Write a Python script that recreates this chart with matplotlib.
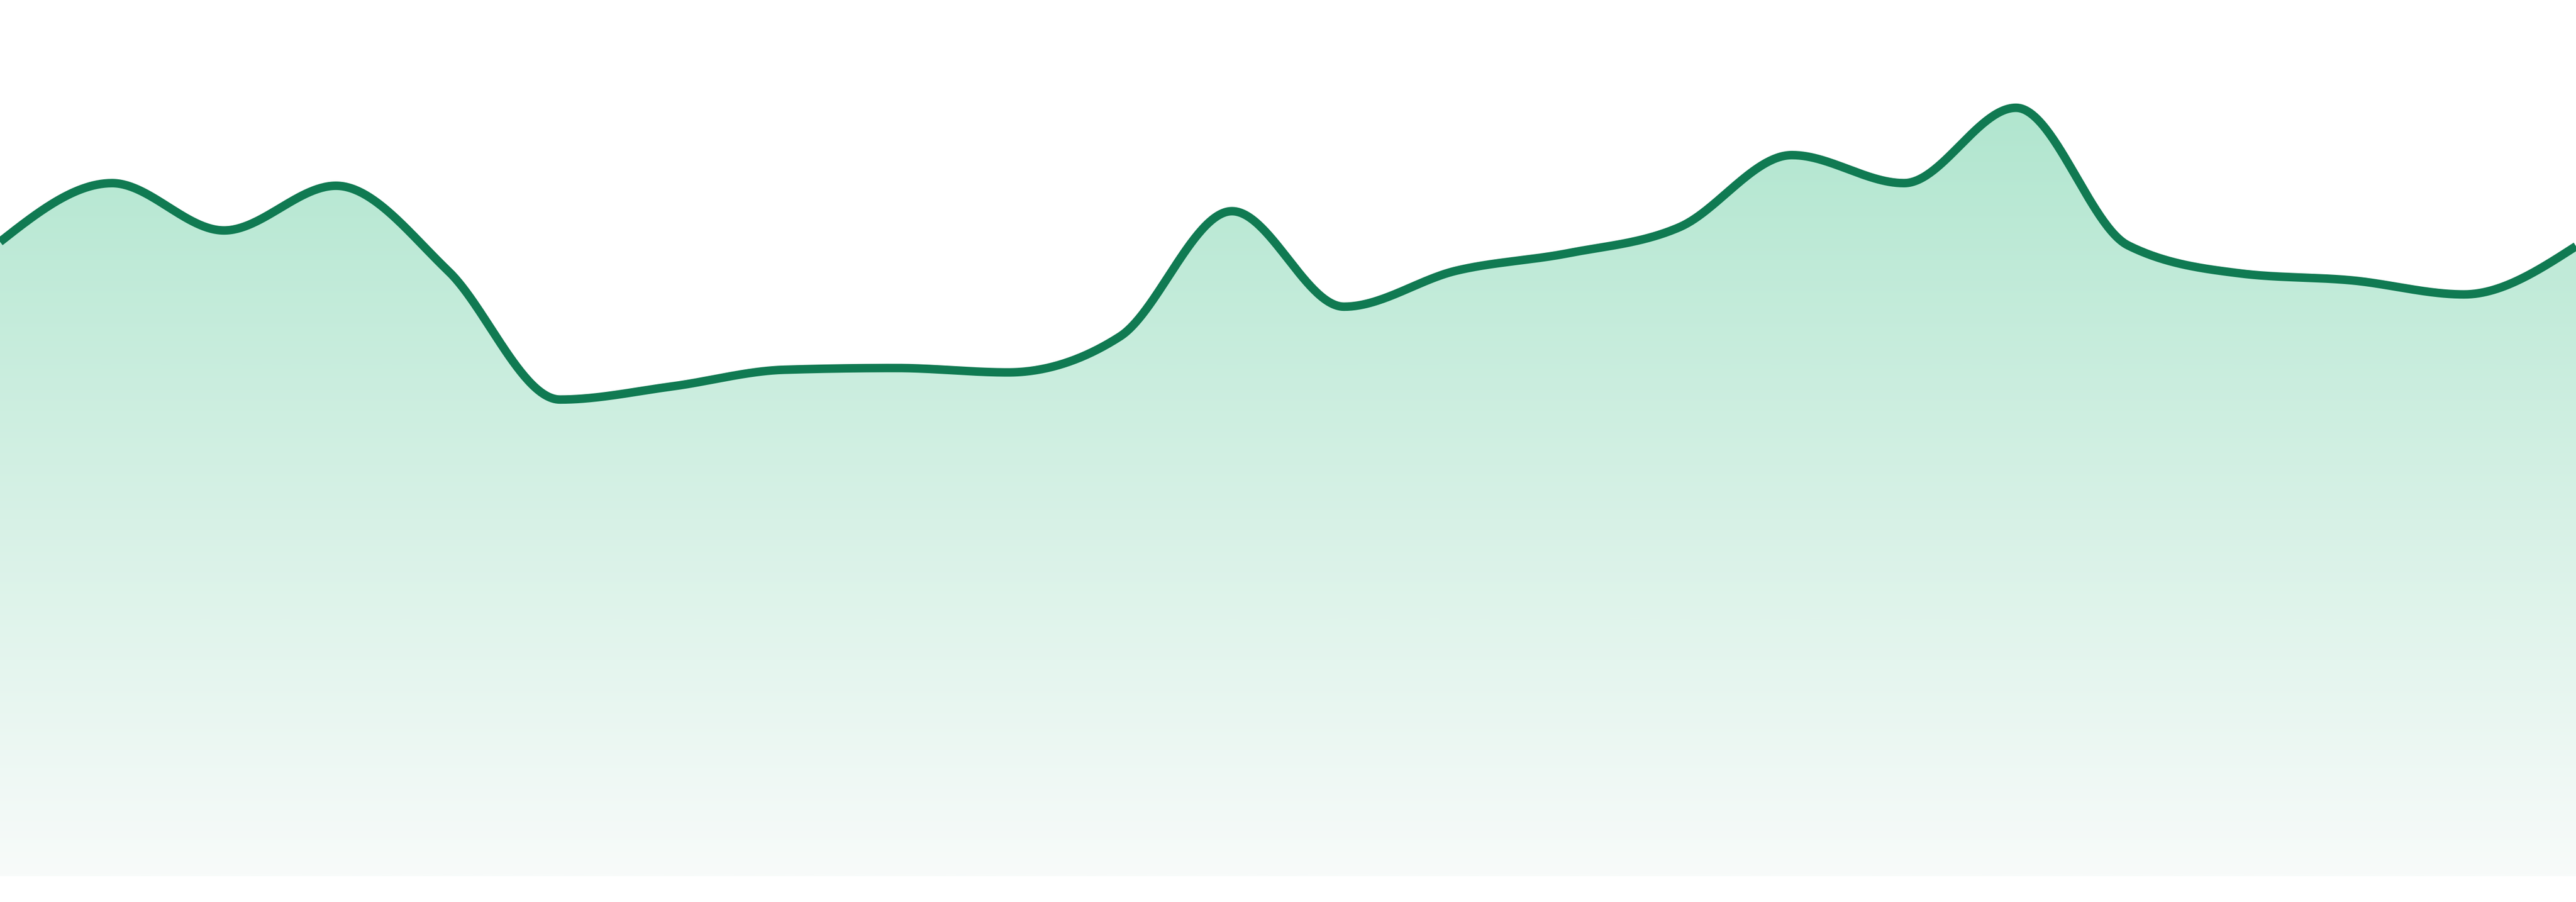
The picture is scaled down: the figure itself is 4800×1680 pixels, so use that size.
import numpy as np
import matplotlib
matplotlib.use("Agg")
import matplotlib.pyplot as plt
from matplotlib.colors import LinearSegmentedColormap

# one value per step
steps = list(range(24))
values = [72.4, 79.1, 73.7, 78.8, 69.1, 54.4, 55.9, 57.8, 58.0, 57.5, 61.6, 75.9,
          65.0, 69.1, 71.1, 74.1, 82.3, 79.1, 87.7, 72.0, 68.8, 68.0, 66.4, 71.9]

LINE_COLOR = "#107a52"
FILL_TOP = "#b1e6cf"
FILL_BOTTOM = "#f8fbfa"


def monotone_x(x, y, n=60):
    """Monotone cubic interpolation (same idea as d3 curveMonotoneX)."""
    x = np.asarray(x, float)
    y = np.asarray(y, float)
    h = np.diff(x)
    s = np.diff(y) / h
    t = np.zeros_like(y)
    for i in range(1, len(y) - 1):
        h0, h1 = h[i - 1], h[i]
        s0, s1 = s[i - 1], s[i]
        p = (s0 * h1 + s1 * h0) / (h0 + h1)
        t[i] = (np.sign(s0) + np.sign(s1)) * min(abs(s0), abs(s1), 0.5 * abs(p))
    t[0] = (3 * s[0] - t[1]) / 2
    t[-1] = (3 * s[-1] - t[-2]) / 2

    xs, ys = [], []
    for i in range(len(x) - 1):
        u = np.linspace(0, 1, n, endpoint=False)
        dx = h[i]
        h00 = 2 * u**3 - 3 * u**2 + 1
        h10 = u**3 - 2 * u**2 + u
        h01 = -2 * u**3 + 3 * u**2
        h11 = u**3 - u**2
        xs.append(x[i] + u * dx)
        ys.append(h00 * y[i] + h10 * dx * t[i] + h01 * y[i + 1] + h11 * dx * t[i + 1])
    xs.append([x[-1]])
    ys.append([y[-1]])
    return np.concatenate(xs), np.concatenate(ys)


fig = plt.figure(figsize=(16, 5.6), dpi=300)
ax = fig.add_axes([0, 48 / 1680, 1, 1632 / 1680])
ax.set_xlim(steps[0], steps[-1])
ax.set_ylim(0, 100)
ax.axis("off")

xs, ys = monotone_x(steps, values)

# gradient fill under the curve
poly = ax.fill_between(xs, ys, 0, color="none", lw=0)
cmap = LinearSegmentedColormap.from_list("fade", [FILL_BOTTOM, FILL_TOP])
grad = np.linspace(0, 1, 512).reshape(-1, 1)
img = ax.imshow(grad, cmap=cmap, origin="lower", aspect="auto",
                extent=[steps[0], steps[-1], 0, max(values)], zorder=1)
img.set_clip_path(poly.get_paths()[0], transform=ax.transData)

ax.plot(xs, ys, color=LINE_COLOR, lw=3.8, solid_capstyle="butt", zorder=2)

fig.savefig("out.png", dpi=300)
